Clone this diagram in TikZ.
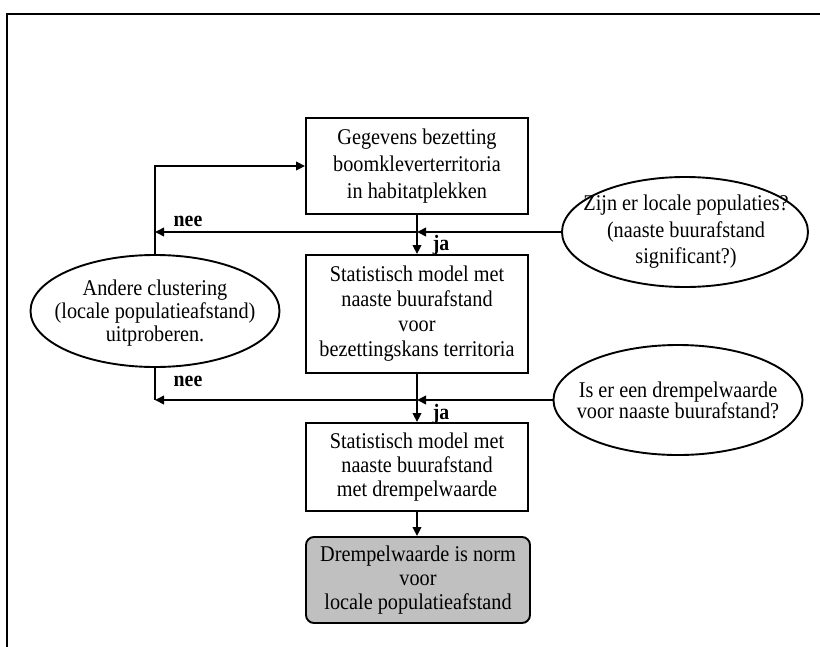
\documentclass[tikz,border=0pt]{standalone}
\usepackage{fontspec}
\setmainfont[FakeStretch=0.9]{Liberation Serif}
\usetikzlibrary{arrows.meta,shapes.geometric}
\definecolor{termgray}{RGB}{192,192,192}
\begin{document}
\begin{tikzpicture}[x=1pt,y=-1pt,
  lw/.style={line width=1.9pt},
  fs/.style={font=\fontsize{22.5pt}{#1}\selectfont},
  stepbox/.style={draw, lw, minimum width=222pt, inner sep=0pt, align=center},
  endbox/.style={stepbox, fill=termgray, rounded corners=8pt, minimum width=224pt},
  question/.style={draw, lw, ellipse, inner sep=0pt},
  qtext/.style={align=center, inner sep=0pt},
  arr/.style={lw, -{Triangle[length=9pt,width=8.5pt]}},
  wire/.style={lw},
  answer/.style={font=\fontsize{22pt}{24pt}\selectfont\bfseries, inner sep=0pt},
  pageframe/.style={line width=2.4pt}
]
\useasboundingbox (0,0) rectangle (820,646);
\clip (0,0) rectangle (820,646);

% open page frame (top and left edges)
\draw[pageframe] (7,700) -- (7,14) -- (900,14);

% process boxes
\node[stepbox, fs=27pt, minimum height=96pt] (b1) at (417,166)
  {Gegevens bezetting\\boomkleverterritoria\\in habitatplekken};
\node[stepbox, fs=25pt, minimum height=118pt] (b2) at (417,314)
  {Statistisch model met\\naaste buurafstand\\voor\\bezettingskans territoria};
\node[stepbox, fs=24pt, minimum height=88pt] (b3) at (417,467)
  {Statistisch model met\\naaste buurafstand\\met drempelwaarde};
\node[endbox, fs=24pt, minimum height=86pt] (b4) at (418,580)
  {Drempelwaarde is norm\\voor\\locale populatieafstand};

% decision ellipses
\node[question, minimum width=246pt, minimum height=110pt] (e1) at (685,232) {};
\node[qtext, fs=26.5pt] (e1t) at (686,232)
  {Zijn er locale populaties?\\(naaste buurafstand\\significant?)};
\node[question, minimum width=249pt, minimum height=110pt] (e2) at (678,400) {};
\node[qtext, fs=21pt] (e2t) at (678,400)
  {Is er een drempelwaarde\\voor naaste buurafstand?};
\node[question, minimum width=249pt, minimum height=112pt] (eL) at (155,311) {};
\node[qtext, fs=23pt] (eLt) at (155,313)
  {Andere clustering\\(locale populatieafstand)\\uitproberen.};

% junction points
\coordinate (j1) at (b1.south |- e1.west);
\coordinate (j2) at (b2.south |- e2.west);
\coordinate (n1) at (eL.north |- e1.west);
\coordinate (n2) at (eL.south |- e2.west);

% main flow
\draw[arr] (b1) -- (b2);
\draw[arr] (b2) -- (b3);
\draw[arr] (b3.south) -- (b3.south |- b4.north);

% answers from the decisions
\draw[arr] (e1.west) -- (j1);
\draw[arr] (j1) -- (n1);
\draw[arr] (e2.west) -- (j2);
\draw[arr] (j2) -- (n2);

% loop back through the clustering step
\draw[wire] (eL.south) -- (n2);
\draw[arr] (eL.north) |- (b1.west);

% answer labels
\node[answer] (nee1) at (188,221) {nee};
\node[answer] (nee2) at (188,381) {nee};
\node[answer] (ja1) at (441,245) {ja};
\node[answer] (ja2) at (441,414) {ja};
\end{tikzpicture}
\end{document}
